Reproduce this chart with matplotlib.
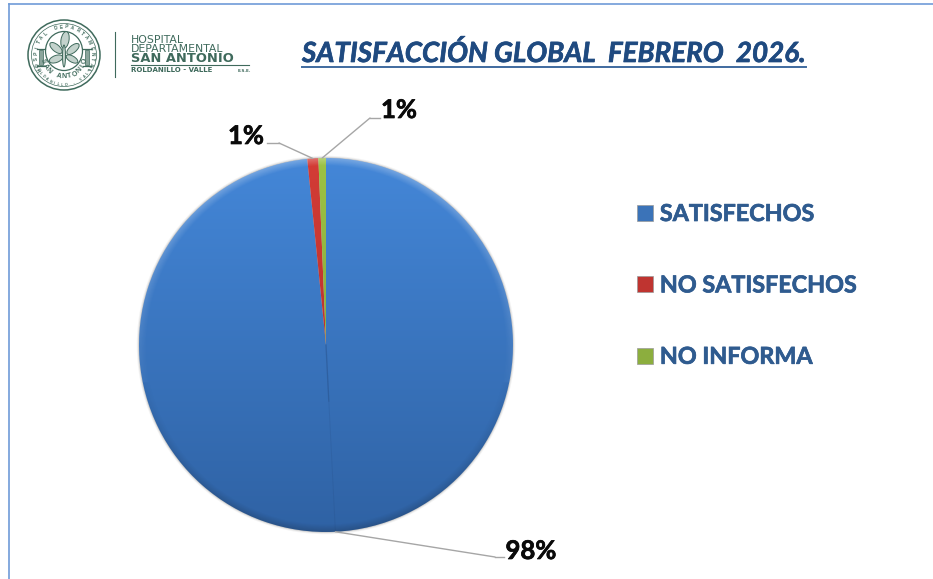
import numpy as np
import matplotlib
matplotlib.use("Agg")
import matplotlib.pyplot as plt
import matplotlib.patheffects as pe
from matplotlib.patches import Circle, Rectangle, Ellipse
from matplotlib.colors import to_rgb

categories = ["SATISFECHOS", "NO SATISFECHOS", "NO INFORMA"]
values = [98.4, 0.95, 0.65]
top_colors = ["#4487d8", "#d43c36", "#9cc245"]
bottom_colors = ["#2f62a4", "#a52a26", "#7a9a35"]
legend_colors = ["#3b73b8", "#bf3430", "#8cae3e"]
title = "SATISFACCIÓN GLOBAL  FEBRERO  2026."
W, H = 933, 579
TEXT_BLUE = "#2f5b8f"
TITLE_BLUE = "#1f4a80"
LOGO = "#3f6a5c"


def thick(color, lw=0.5):
    # Lato bold is a bit thinner than the reference lettering
    return [pe.withStroke(linewidth=lw, foreground=color)]


fig = plt.figure(figsize=(W / 100, H / 100), dpi=100)

# overlay in pixel coords for frame, header and logo
bg = fig.add_axes([0, 0, 1, 1])
bg.set_xlim(0, W); bg.set_ylim(H, 0); bg.axis("off")
bg.plot([9, 9], [H, 4], color="#6f9bd8", lw=1.2)
bg.plot([9, W], [4, 4], color="#6f9bd8", lw=1.2)
bg.text(302, 53.5, title, fontsize=20, family="Lato", style="italic", weight="bold",
        color=TITLE_BLUE, va="center", ha="left", path_effects=thick(TITLE_BLUE))
bg.plot([302, 806], [67, 67], color="#3f6a9f", lw=1.4)


def arc_text(txt, r, mid_deg, step_deg, size, bottom=False):
    # letter by letter around the seal
    for i, ch in enumerate(txt):
        off = (i - (len(txt) - 1) / 2) * step_deg
        a = np.radians(mid_deg + off if bottom else mid_deg - off)
        rot = np.degrees(a) + 90 if bottom else np.degrees(a) - 90
        bg.text(64 + r * np.cos(a), 55 - r * np.sin(a), ch, fontsize=size, weight="bold",
                color=LOGO, ha="center", va="center", rotation=rot, family="Liberation Sans")


# logo
bg.add_patch(Ellipse((64, 55), 72, 70, fill=False, ec=LOGO, lw=1.1))
bg.add_patch(Ellipse((64, 55), 65, 63, fill=False, ec=LOGO, lw=0.5))
bg.add_patch(Ellipse((64, 51), 37, 39, fill=False, ec=LOGO, lw=0.9))
for lx in (41, 87):
    bg.add_patch(Rectangle((lx - 2, 50), 4, 15, fc="#8ba59c", ec=LOGO, lw=0.5))
    bg.plot([lx - 4, lx + 4], [49, 49], color=LOGO, lw=0.9)
    bg.plot([lx - 4, lx + 4], [66, 66], color=LOGO, lw=0.9)
for (lx, ly, lw_, lh, ang) in [(65, 40, 8, 17, 10), (56, 48, 7, 15, -50), (73, 49, 7, 15, 50),
                               (56, 59, 7, 14, 70), (72, 59, 6, 13, -60), (64, 56, 3, 22, 0)]:
    bg.add_patch(Ellipse((lx, ly), lw_, lh, angle=ang, fc="#c3d2cc", ec=LOGO, lw=0.7))
arc_text("HOSPITAL DEPARTAMENTAL", 28, 90, 11.5, 3.4)
arc_text("SAN ANTONIO", 22, 270, 15, 5, bottom=True)
arc_text("ROLDANILLO - VALLE", 30, 270, 8, 2.6, bottom=True)
bg.plot([115, 115], [32, 77], color=LOGO, lw=0.8)
for (y, txt, size, wgt) in [(40, "HOSPITAL", 7.8, "normal"), (48.5, "DEPARTAMENTAL", 7.8, "normal"),
                            (58.5, "SAN ANTONIO", 9.4, "bold"), (70, "ROLDANILLO - VALLE", 5.0, "bold")]:
    bg.text(131, y, txt, fontsize=size, weight=wgt, color=LOGO, ha="left", va="center",
            family="DejaVu Sans")
bg.text(238, 71, "E.S.E.", fontsize=3, weight="bold", color=LOGO, ha="left", va="center",
        family="DejaVu Sans")
bg.plot([131, 249], [65, 65], color=LOGO, lw=0.8)

# pie
cx, cy, R, half = 326, 345, 187, 210
ax = fig.add_axes([(cx - half) / W, (H - cy - half) / H, 2 * half / W, 2 * half / H])
lim = half / R
wedges, _ = ax.pie(values, startangle=90, counterclock=False, radius=1,
                   colors=top_colors, wedgeprops=dict(lw=0))

# soft shadow behind the disc
for r, a in [(1.012, 0.06), (1.007, 0.10), (1.003, 0.16)]:
    ax.add_patch(Circle((0, 0), r, fc="#444444", ec="none", alpha=a, zorder=0))

yy, xx = np.mgrid[1:-1:500j, -1:1:500j]
rr = np.hypot(xx, yy)
for w, c0, c1 in zip(wedges, top_colors, bottom_colors):
    c0 = np.array(to_rgb(c0)); c1 = np.array(to_rgb(c1))
    t = ((1 - yy) / 2)[..., None]
    img = c0 * (1 - t) + c1 * t
    im = ax.imshow(img, extent=(-1, 1, -1, 1), zorder=1.5, aspect="equal")
    im.set_clip_path(w.get_path(), transform=w.get_transform())
    w.set_visible(False)

# bevel along the rim, light on top and dark at the bottom
bevel = np.zeros(rr.shape + (4,))
bevel[..., :3] = np.where(yy[..., None] > -0.2, 1.0, 0.05)
edge = np.clip((rr - 0.96) / 0.04, 0, 1)
bevel[..., 3] = edge * np.clip(0.03 + 0.2 * np.abs(yy + 0.2), 0, 0.28)
ax.imshow(bevel, extent=(-1, 1, -1, 1), zorder=2, aspect="equal",
          clip_path=Circle((0, 0), 1, transform=ax.transData))
ax.set_xlim(-lim, lim); ax.set_ylim(-lim, lim); ax.set_aspect("equal")

# seam of the big slice, from the centre to the rim
seam = np.radians((wedges[0].theta1 + wedges[0].theta2) / 2)
sx, sy = np.cos(seam), np.sin(seam)
ax.plot([0, sx], [0, sy], color="#1f3f70", lw=0.7, alpha=0.14, zorder=3)
ax.plot([0, 0.3 * sx], [0, 0.3 * sy], color="#1f3f70", lw=1.0, alpha=0.22, zorder=3)

# labels with an elbow leader: text centre, then elbow start and end
label_px = [(531, 551), (246, 136), (399, 110)]
elbow_px = [((495, 557), (504, 557)), ((279, 143), (267, 143)), ((370, 118), (380, 118))]
for w, v, txt_at, (e0, e1) in zip(wedges, values, label_px, elbow_px):
    mid = np.radians((w.theta1 + w.theta2) / 2)
    bg.text(txt_at[0], txt_at[1], f"{v:.0f}%", fontsize=18.5, family="Lato", weight="bold",
            color="#0a0a0a", ha="center", va="center", path_effects=thick("#0a0a0a"))
    ax.annotate("", xy=(np.cos(mid), np.sin(mid)), xytext=e0, textcoords=bg.transData,
                arrowprops=dict(arrowstyle="-", color="#a6a6a6", lw=1.0, shrinkA=0, shrinkB=0),
                annotation_clip=False, zorder=4)
    bg.plot([e0[0], e1[0]], [e0[1], e1[1]], color="#a6a6a6", lw=1.0)

# legend
handles = [Rectangle((0, 0), 1, 1, fc=c, ec="#9a9a9a", lw=0.5) for c in legend_colors]
leg = fig.legend(handles, categories, loc="upper left", bbox_to_anchor=(637 / W, 1 - 204 / H),
                 frameon=False, handlelength=0.68, handleheight=0.68, handletextpad=0.3,
                 labelspacing=2.16, borderpad=0, borderaxespad=0,
                 prop=dict(family="Lato", weight="bold", size=16.8))
for t in leg.get_texts():
    t.set_color(TEXT_BLUE)
    t.set_path_effects(thick(TEXT_BLUE))

fig.savefig("out.png", dpi=100)
